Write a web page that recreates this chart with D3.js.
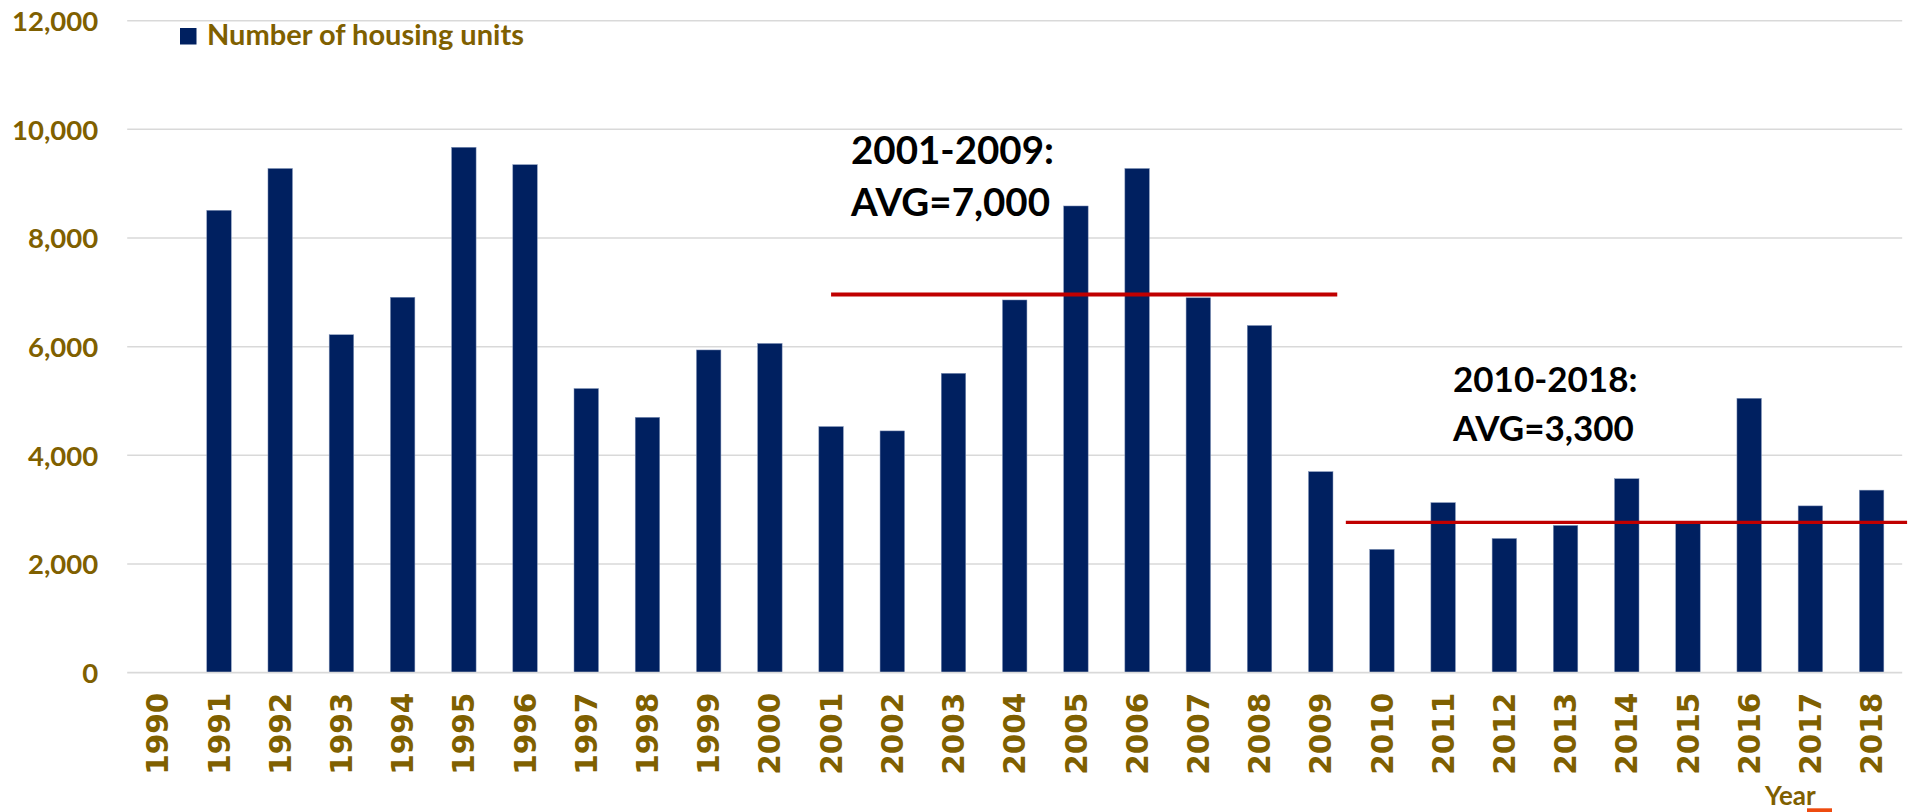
<!DOCTYPE html>
<html>
<head>
<meta charset="utf-8">
<script src="https://cdn.jsdelivr.net/npm/d3@7"></script>
<style>
  html, body { margin: 0; padding: 0; background: #fff; }
  svg { display: block; }
</style>
</head>
<body>
<svg id="chart" width="1914" height="812"></svg>
<script>
// ---- data ----
const years = ["1990","1991","1992","1993","1994","1995","1996","1997","1998","1999",
               "2000","2001","2002","2003","2004","2005","2006","2007","2008","2009",
               "2010","2011","2012","2013","2014","2015","2016","2017","2018"];
const housingUnits = [null, 8510, 9280, 6220, 6910, 9670, 9350, 5230, 4700, 5940,
                      6060, 4530, 4450, 5510, 6860, 8590, 9280, 6900, 6390, 3700,
                      2270, 3130, 2470, 2710, 3570, 2750, 5050, 3070, 3360];
const yTicks = [0, 2000, 4000, 6000, 8000, 10000, 12000];
const seriesName = "Number of housing units";
const xAxisTitle = "Year";
const avgPeriods = ["2001-2009:", "2010-2018:"];
const avgLabels = ["AVG=7,000", "AVG=3,300"];
const avgStart = ["2001", "2010"];
const avgEnd = ["2009", "2018"];
const avgValues = [6960, 2765];

// ---- layout ----
const svg = d3.select("#chart");
const plotLeft = 127.2, plotRight = 1902.2, plotTop = 20.7, plotBottom = 672.7;
const olive = "#7F6000";
const barColor = "#002060";
const red = "#C00000";

const x = d3.scaleBand().domain(years).range([plotLeft, plotRight]).paddingInner(0.6).paddingOuter(0.3);
const y = d3.scaleLinear().domain([0, 12000]).range([plotBottom, plotTop]);

// gridlines
svg.append("g").selectAll("line").data(yTicks.filter(d => d > 0)).join("line")
  .attr("x1", plotLeft).attr("x2", plotRight)
  .attr("y1", d => y(d)).attr("y2", d => y(d))
  .attr("stroke", "#D9D9D9").attr("stroke-width", 1.5);

// y axis labels
const yAxis = d3.axisLeft(y).tickValues(yTicks).tickFormat(d3.format(",")).tickSize(0).tickPadding(29);
const gy = svg.append("g").attr("transform", `translate(${plotLeft},0)`).call(yAxis);
gy.select(".domain").remove();
gy.selectAll("text")
  .attr("fill", olive).attr("font-family", "Lato").attr("font-weight", "bold")
  .attr("font-size", 27.5).attr("dy", "0.36em");

// bars
const data = years.map((yr, i) => ({ year: yr, value: housingUnits[i] }));
svg.append("g").selectAll("rect").data(data.filter(d => d.value != null)).join("rect")
  .attr("x", d => x(d.year))
  .attr("y", d => y(d.value))
  .attr("width", x.bandwidth())
  .attr("height", d => y(0) - y(d.value))
  .attr("fill", barColor)
  .attr("stroke", "#8093b8").attr("stroke-width", 0.5);

// x axis
const xAxis = d3.axisBottom(x).tickSize(0).tickPadding(20);
const gx = svg.append("g").attr("transform", `translate(0,${plotBottom})`).call(xAxis);
gx.select(".domain").attr("stroke", "#D9D9D9").attr("stroke-width", 1.8)
  .attr("d", `M${plotLeft},0H${plotRight}`);
gx.selectAll("text")
  .attr("fill", olive).attr("font-family", "DejaVu Sans").attr("font-weight", "bold")
  .attr("font-size", 29.5)
  .attr("transform", "rotate(-90)")
  .attr("text-anchor", "end")
  .attr("x", -20).attr("y", 0).attr("dy", "0.36em");

// average lines
const step = x.step();
const lineStartOff = [0.5, -0.09];   // in steps relative to category slot start of start year
const lineEndOff = [0.77, 1.08];     // in steps relative to category slot start of end year
const lineWidths = [4, 3.2];
const slotStart = yr => x(yr) - step * x.paddingInner() / 2;
avgValues.forEach((v, i) => {
  svg.append("line")
    .attr("x1", slotStart(avgStart[i]) + step * lineStartOff[i])
    .attr("x2", slotStart(avgEnd[i]) + step * lineEndOff[i])
    .attr("y1", y(v)).attr("y2", y(v))
    .attr("stroke", red).attr("stroke-width", lineWidths[i]);
});

// annotations
const annX = [851, 1453];
const annY1 = [164, 392];
const annY2 = [216, 441];
const annSize = [38.5, 35];
avgPeriods.forEach((p, i) => {
  const t = svg.append("text").attr("font-family", "Lato").attr("font-weight", "bold")
    .attr("font-size", annSize[i]).attr("fill", "#000");
  t.append("tspan").attr("x", annX[i]).attr("y", annY1[i]).text(p);
  t.append("tspan").attr("x", annX[i]).attr("y", annY2[i]).text(avgLabels[i]);
});

// legend
svg.append("rect").attr("x", 180).attr("y", 28).attr("width", 16.5).attr("height", 16.5).attr("fill", barColor);
svg.append("text").attr("x", 207).attr("y", 44.5)
  .attr("font-family", "Lato").attr("font-weight", "bold").attr("font-size", 29)
  .attr("fill", olive).text(seriesName);

// axis title
svg.append("text").attr("x", 1765).attr("y", 805)
  .attr("font-family", "Lato").attr("font-weight", "bold").attr("font-size", 26)
  .attr("fill", olive).text(xAxisTitle);
svg.append("rect").attr("x", 1807).attr("y", 808.3).attr("width", 25).attr("height", 4)
  .attr("fill", "#EE4B0F");
</script>
</body>
</html>
